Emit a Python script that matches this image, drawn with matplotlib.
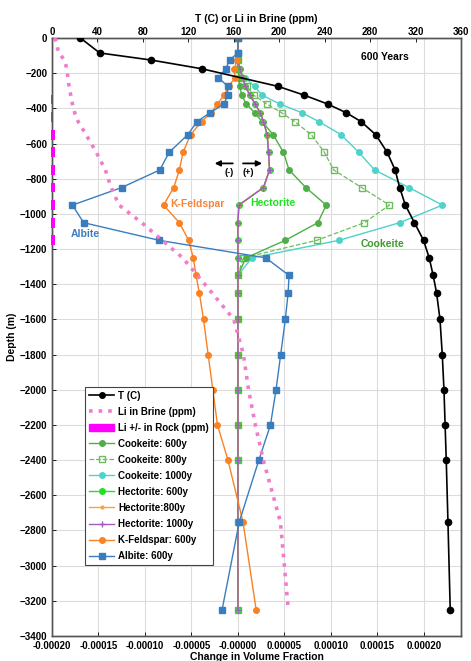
import matplotlib
matplotlib.use("Agg")
import matplotlib.pyplot as plt
from matplotlib.lines import Line2D
from matplotlib.patches import Patch

plt.rcParams['font.family'] = ['Liberation Sans', 'DejaVu Sans']
plt.rcParams['font.weight'] = 'bold'
plt.rcParams['axes.labelweight'] = 'bold'

# depth of model cells (m)
depth = [0, -85, -125, -175, -225, -275, -325, -375, -425, -475, -550, -650,
         -750, -850, -950, -1050, -1150, -1250, -1350, -1450, -1600, -1800,
         -2000, -2200, -2400, -2750, -3250]

# change in volume fraction (x 1e-6)
albite = [0, 0, -9, -13, -21, -11, -11, -15, -30, -44, -54, -74, -84, -125, -178,
          -166, -85, 30, 55, 54, 51, 46, 41, 35, 22.5, 1.5, -17]
kfeld = [0, 0, -1, -4, -3, -10, -15, -22, -29, -39, -51, -59, -63, -69, -80,
         -63, -53, -48, -45, -41.5, -37, -32, -27, -22, -10.7, 5.4, 19.6]
cook600 = [0, 0, 0, 0, 1, 2, 4, 9, 18, 26, 38, 49, 55, 73, 95, 86, 51, 8.6,
           0, 0, 0, 0, 0, 0, 0, 0, 0]
cook800 = [0, 0, 0, 0, 3, 9.6, 17, 31, 47, 61, 79, 93, 103, 133, 163, 136, 85, 5.7,
           0, 0, 0, 0, 0, 0, 0, 0, 0]
cook1000 = [0, 0, 0, 0, 7.8, 18, 26, 45, 69, 87, 111, 130, 147, 184, 220, 174, 109, 15,
            0, 0, 0, 0, 0, 0, 0, 0, 0]
hect600 = [0, 0, 0, 2, 5, 8, 13, 18.5, 24, 27.5, 31.5, 33, 34, 27.5, 1,
           0, 0, 0, 0, 0, 0, 0, 0, 0, 0, 0, 0]
hect800 = [0, 0, 0, 2, 5, 8, 13, 18.5, 24, 27.5, 31.5, 33, 34, 27.5, 1,
           0, 0, 0, 0, 0, 0, 0, 0, 0, 0, 0, 0]
hect1000 = [0, 0, 0, 2, 5, 8, 13, 18.5, 24, 27.5, 31.5, 33, 34, 27.5, 1,
            0, 0, 0, 0, 0, 0, 0, 0, 0, 0, 0, 0]

# temperature (C)
t_depth = [0, -85, -125, -175, -275, -325, -375, -425, -475, -550, -650, -750,
           -850, -950, -1050, -1150, -1250, -1350, -1450, -1600, -1800, -2000,
           -2200, -2400, -2750, -3250]
temp = [25, 42, 87, 132, 199, 222, 242.5, 259, 272, 285, 295, 302, 306, 311,
        319, 327, 332, 335.5, 338.5, 341.5, 343.5, 345, 346, 347, 348.5, 350.5]

# Li in brine (ppm)
li_brine = [2.5, 6, 11, 13, 14, 15, 16.5, 18, 20, 23, 30, 39, 47, 52, 59, 79,
            97, 115, 128, 141, 160, 168.5, 173, 179, 186, 201, 208]

# Li +/- in rock (ppm)
rock_depth = [-350, -450, -550, -650, -750, -850, -950, -1050, -1150]
li_rock = [1.2, 1.2, 3.5, 3.5, 3.5, 3.8, 3.8, 3.5, 3.5]

c_cook600 = '#4fae46'
c_cook800 = '#6cbd5c'
c_cook1000 = '#4dd2cc'
c_hect600 = '#22e022'
c_hect800 = '#ffa040'
c_hect1000 = '#a05cc0'
c_kfeld = '#f98224'
c_albite = '#3a7dbf'
c_li = '#f27ccc'

fig = plt.figure(figsize=(4.71, 6.61), dpi=100)
ax = fig.add_axes([0.1104, 0.0378, 0.8684, 0.9047])
e = 1e-6

def sc(vals):
    return [v * e for v in vals]

ax.plot(sc(cook1000), depth, '-o', color=c_cook1000, lw=1.0, ms=4, zorder=3)
ax.plot(sc(cook800), depth, '--s', color=c_cook800, lw=0.9, ms=4, mfc='none', zorder=3)
ax.plot(sc(cook600), depth, '-o', color=c_cook600, lw=1.0, ms=4, zorder=3)
ax.plot(sc(hect600), depth, '-o', color=c_hect600, lw=1.0, ms=4, zorder=3)
ax.plot(sc(hect800), depth, '-o', color=c_hect800, lw=1.0, ms=2, zorder=3)
ax.plot(sc(hect1000), depth, '-+', color=c_hect1000, lw=1.0, ms=4, zorder=3)
ax.plot(sc(kfeld), depth, '-o', color=c_kfeld, lw=1.0, ms=4, zorder=3)
ax.plot(sc(albite), depth, '-s', color=c_albite, lw=1.0, ms=4, zorder=3)

ax.set_xlim(-0.0002, 0.00024)
ax.set_ylim(-3400, 0)
xt = [-0.0002, -0.00015, -0.0001, -0.00005, 0, 0.00005, 0.0001, 0.00015, 0.0002]
ax.set_xticks(xt)
ax.set_xticklabels(['-0.00020', '-0.00015', '-0.00010', '-0.00005', '-0.00000',
                    '0.00005', '0.00010', '0.00015', '0.00020'])
ax.set_yticks(range(-3400, 1, 200))
ax.grid(True, color='#dcdcdc', lw=0.8)
ax.set_axisbelow(True)
ax.tick_params(direction='in', labelsize=7, length=3, width=0.6)
ax.set_xlabel('Change in Volume Fraction', fontsize=7.5, labelpad=1)
ax.set_ylabel('Depth (m)', fontsize=7.5, labelpad=2)
for s in ax.spines.values():
    s.set_color('#555555')
    s.set_linewidth(1.0)

ax.annotate('', xy=(-2.8e-5, -713), xytext=(-2.5e-6, -713),
            arrowprops=dict(arrowstyle='-|>', color='black', lw=1.3, mutation_scale=8))
ax.annotate('', xy=(2.9e-5, -713), xytext=(2.5e-6, -713),
            arrowprops=dict(arrowstyle='-|>', color='black', lw=1.3, mutation_scale=8))
ax.text(-9e-6, -767, '(-)', fontsize=6.5, ha='center', va='center')
ax.text(1.14e-5, -767, '(+)', fontsize=6.5, ha='center', va='center')
ax.text(-4.4e-5, -941, 'K-Feldspar', color='#f5843c', fontsize=7.5, ha='center', va='center')
ax.text(3.75e-5, -937, 'Hectorite', color=c_hect600, fontsize=7.5, ha='center', va='center')
ax.text(-1.64e-4, -1117, 'Albite', color=c_albite, fontsize=7.5, ha='center', va='center')
ax.text(1.56e-4, -1172, 'Cookeite', color='#3d9a2e', fontsize=7.5, ha='center', va='center')
ax.text(1.58e-4, -107, '600 Years', color='black', fontsize=7.5, ha='center', va='center')

ax2 = ax.twiny()
ax2.barh(rock_depth, li_rock, left=-1.2, height=55, color='#ff00ff', zorder=6,
         clip_on=False)
ax2.plot(li_brine, depth, ':', color=c_li, lw=2.6, zorder=3)
ax2.plot(temp, t_depth, '-o', color='black', lw=1.2, ms=4.5, zorder=4)
ax2.set_xlim(0, 360)
ax2.set_xticks(range(0, 361, 40))
ax2.tick_params(direction='in', labelsize=7, length=3, width=0.6, pad=1)
ax2.set_xlabel('T (C) or Li in Brine (ppm)', fontsize=7.5, labelpad=3)
for s in ax2.spines.values():
    s.set_color('#555555')
    s.set_linewidth(1.0)

handles = [
    Line2D([], [], color='black', marker='o', ms=4, lw=1.2),
    Line2D([], [], color=c_li, ls=':', lw=2.6),
    Patch(facecolor='#ff00ff', edgecolor='#ff00ff'),
    Line2D([], [], color=c_cook600, marker='o', ms=4, lw=1.0),
    Line2D([], [], color=c_cook800, marker='s', ms=4, mfc='none', ls='--', lw=0.9),
    Line2D([], [], color=c_cook1000, marker='o', ms=4, lw=1.0),
    Line2D([], [], color=c_hect600, marker='o', ms=4, lw=1.0),
    Line2D([], [], color=c_hect800, marker='o', ms=2, lw=1.0),
    Line2D([], [], color=c_hect1000, marker='+', ms=4, lw=1.0),
    Line2D([], [], color=c_kfeld, marker='o', ms=4, lw=1.0),
    Line2D([], [], color=c_albite, marker='s', ms=4, lw=1.0),
]
labels = ['T (C)', 'Li in Brine (ppm)', 'Li +/- in Rock (ppm)', 'Cookeite: 600y',
          'Cookeite: 800y', 'Cookeite: 1000y', 'Hectorite: 600y', 'Hectorite:800y',
          'Hectorite: 1000y', 'K-Feldspar: 600y', 'Albite: 600y']
leg = ax2.legend(handles, labels, loc='lower left', bbox_to_anchor=(0.081, 0.119),
                 borderaxespad=0, fontsize=7, fancybox=False, framealpha=1,
                 edgecolor='#444444', handlelength=2.6, labelspacing=0.62,
                 handletextpad=0.4, borderpad=0.4)
leg.get_frame().set_linewidth(0.8)
leg.set_zorder(10)

fig.savefig('out.png', dpi=100)
